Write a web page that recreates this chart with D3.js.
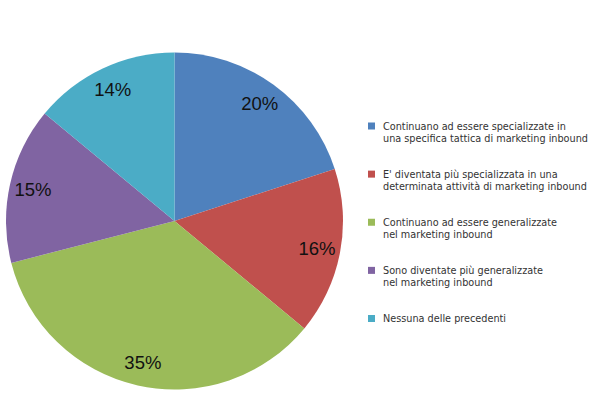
<!DOCTYPE html>
<html>
<head>
<meta charset="utf-8">
<script src="https://cdn.jsdelivr.net/npm/d3@7"></script>
<style>
  body { margin: 0; background: #fff; }
</style>
</head>
<body>
<svg></svg>
<script>
// Chart data
const categories = [
    ["Continuano ad essere specializzate in", "una specifica tattica di marketing inbound"],
    ["E' diventata più specializzata in una", "determinata attività di marketing inbound"],
    ["Continuano ad essere generalizzate", "nel marketing inbound"],
    ["Sono diventate più generalizzate", "nel marketing inbound"],
    ["Nessuna delle precedenti"]
];
const values = [20, 16, 35, 15, 14];
const colors = ["#4F81BD", "#C0504D", "#9BBB59", "#8064A2", "#4BACC6"];

const width = 608;
const height = 393;

const svg = d3.select("svg")
    .attr("width", width)
    .attr("height", height);

// Pie geometry
const cx = 174.5, cy = 221, radius = 168.5;

const pie = d3.pie().sort(null).value(d => d);
const arc = d3.arc().innerRadius(0).outerRadius(radius);
const labelArc = d3.arc().innerRadius(145).outerRadius(145);

const g = svg.append("g").attr("transform", `translate(${cx},${cy})`);

const arcs = pie(values);

g.selectAll("path")
    .data(arcs)
    .enter().append("path")
    .attr("d", arc)
    .attr("fill", (d, i) => colors[i]);

// Percentage labels
g.selectAll("text")
    .data(arcs)
    .enter().append("text")
    .attr("transform", d => `translate(${labelArc.centroid(d)})`)
    .attr("text-anchor", "middle")
    .attr("dy", "0.36em")
    .attr("font-family", "Liberation Sans, Arial, sans-serif")
    .attr("font-size", 18.5)
    .attr("fill", "#111")
    .text(d => d.data + "%");

// Legend
const legendY = d3.scalePoint()
    .domain(d3.range(categories.length))
    .range([126, 318.5]);

const legend = svg.append("g")
    .selectAll("g")
    .data(categories)
    .enter().append("g")
    .attr("transform", (d, i) => `translate(368,${legendY(i)})`);

legend.append("rect")
    .attr("x", 0)
    .attr("y", -3.5)
    .attr("width", 7)
    .attr("height", 7)
    .attr("fill", (d, i) => colors[i]);

legend.append("text")
    .attr("x", 15)
    .attr("y", 3.5)
    .attr("font-family", "DejaVu Sans, Verdana, sans-serif")
    .attr("font-size", 9.7)
    .attr("fill", "#333")
    .selectAll("tspan")
    .data(d => d)
    .enter().append("tspan")
    .attr("x", 15)
    .attr("dy", (d, i) => i === 0 ? 0 : 12)
    .text(d => d);
</script>
</body>
</html>
